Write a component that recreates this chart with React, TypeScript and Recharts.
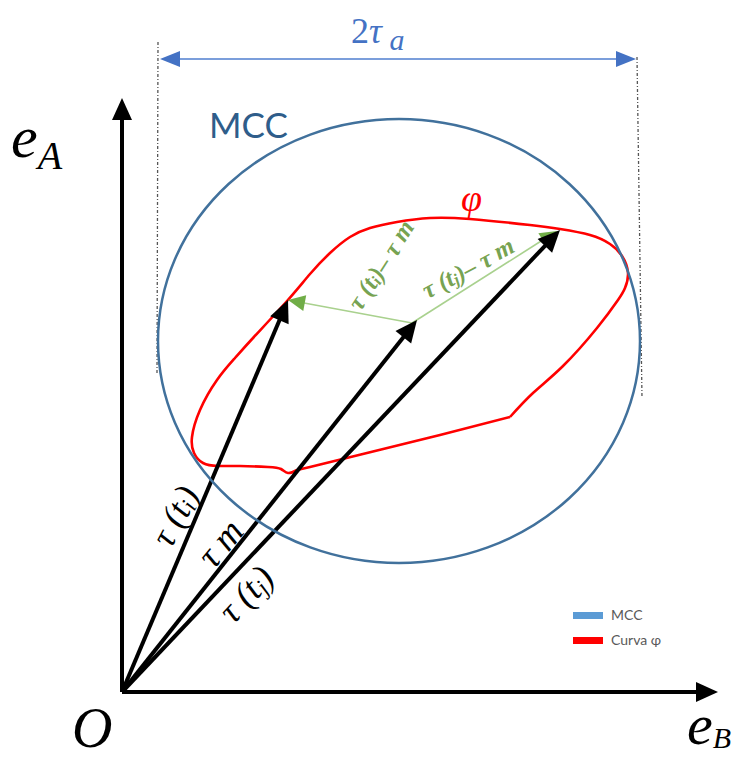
import React from 'react';
import { ComposedChart, XAxis, YAxis, Line, ReferenceLine, ReferenceDot } from 'recharts';

const W = 742;
const H = 760;

// ---- data (in diagram units; x to the right, y downwards) ----
const origin = { x: 122, y: 692 };
const axisTips = [
  { name: 'eB', x: 718, y: 692 },
  { name: 'eA', x: 122, y: 98 },
];
const vectorTips = [
  { name: 'ti', x: 288, y: 300 },
  { name: 'm', x: 417, y: 320 },
  { name: 'tj', x: 560, y: 230 },
];
const diffStart = { x: 412, y: 323 };
const diffTips = [
  { name: 'ti-m', x: 288, y: 300 },
  { name: 'tj-m', x: 557, y: 231 },
];
const mccCenter = { x: 399, y: 341 };
const mccRadii = { rx: 241, ry: 222 };
const phiSmooth = [
  { x: 297, y: 470 }, { x: 288, y: 473 }, { x: 281, y: 469 }, { x: 268, y: 467 },
  { x: 240, y: 466 }, { x: 218, y: 466 }, { x: 203, y: 463 }, { x: 194, y: 453 },
  { x: 192, y: 437 }, { x: 200, y: 410 }, { x: 217, y: 380 }, { x: 235, y: 358 },
  { x: 253, y: 338 }, { x: 287, y: 301 }, { x: 310, y: 274 }, { x: 330, y: 253 },
  { x: 350, y: 237 }, { x: 370, y: 228 }, { x: 397, y: 222 }, { x: 430, y: 218 },
  { x: 470, y: 219 }, { x: 530, y: 225 }, { x: 560, y: 229 }, { x: 590, y: 235 },
  { x: 610, y: 244 }, { x: 622, y: 256 }, { x: 628, y: 273 }, { x: 625, y: 288 },
  { x: 618, y: 300 }, { x: 597, y: 328 }, { x: 563, y: 366 }, { x: 533, y: 393 },
  { x: 510, y: 417 },
];
const phiStraight = [
  { x: 510, y: 417 }, { x: 440, y: 435 }, { x: 371, y: 452 }, { x: 310, y: 467 }, { x: 297, y: 470 },
];
const guideLines = [
  [{ x: 158, y: 42 }, { x: 157, y: 374 }],
  [{ x: 637, y: 57 }, { x: 642, y: 398 }],
];
const spanArrow = [{ x: 160, y: 59 }, { x: 636, y: 59 }];
const legendItems = [
  { label: 'MCC', color: '#5B9BD5' },
  { label: 'Curva φ', color: '#FF0000' },
];

// ---- annotation anchors ----
const legendAnchor = { x: 573, y: 615, step: 25 };

const SERIF = '"Liberation Serif", "DejaVu Serif", serif';
const SANS = 'Lato, "Open Sans", "Noto Sans", sans-serif';

function head(x1: number, y1: number, x2: number, y2: number, len: number, half: number) {
  const dx = x2 - x1;
  const dy = y2 - y1;
  const L = Math.hypot(dx, dy) || 1;
  const ux = dx / L;
  const uy = dy / L;
  const bx = x2 - ux * len;
  const by = y2 - uy * len;
  const px = -uy * half;
  const py = ux * half;
  return { bx, by, ux, uy, pts: `${x2},${y2} ${bx + px},${by + py} ${bx - px},${by - py}` };
}

const makeArrow = (opts: { line: string; head: string; width: number; len: number; half: number; both?: boolean; dash?: string }) =>
  (p: any) => {
    const { x1, y1, x2, y2 } = p;
    const h2 = head(x1, y1, x2, y2, opts.len, opts.half);
    let sx = x1;
    let sy = y1;
    let h1: any = null;
    if (opts.both) {
      h1 = head(x2, y2, x1, y1, opts.len, opts.half);
      sx = h1.bx + h1.ux * 1;
      sy = h1.by + h1.uy * 1;
    }
    const ex = h2.bx + h2.ux * 2;
    const ey = h2.by + h2.uy * 2;
    return (
      <g>
        <line x1={sx} y1={sy} x2={ex} y2={ey} stroke={opts.line} strokeWidth={opts.width} strokeDasharray={opts.dash} />
        <polygon points={h2.pts} fill={opts.head} />
        {h1 ? <polygon points={h1.pts} fill={opts.head} /> : null}
      </g>
    );
  };

const blackArrow = makeArrow({ line: '#000', head: '#000', width: 4, len: 22, half: 10 });
const greenArrow = makeArrow({ line: '#A9D18E', head: '#70AD47', width: 1.6, len: 17, half: 8 });
const blueArrow = makeArrow({ line: '#7B9EDB', head: '#4472C4', width: 2, len: 20, half: 8, both: true });

const guideShape = (p: any) => (
  <line x1={p.x1} y1={p.y1} x2={p.x2} y2={p.y2} stroke="#555" strokeWidth={1.3} strokeDasharray="3 2 1 2" />
);

const ellipseShape = (p: any) => (
  <ellipse cx={p.cx} cy={p.cy} rx={mccRadii.rx} ry={mccRadii.ry} fill="none" stroke="#41719C" strokeWidth={2.5} />
);

type TextSpec = { x: number; y: number; render: (cx: number, cy: number) => React.ReactNode };

const tauLabel = (cx: number, cy: number, angle: number, sub: string, size: number) => (
  <text
    x={cx}
    y={cy}
    transform={`rotate(${angle} ${cx} ${cy})`}
    textAnchor="middle"
    dominantBaseline="central"
    fontFamily={SERIF}
    fontStyle="italic"
    fontSize={size}
    fill="#000"
  >
    τ (t<tspan fontSize={size * 0.65} dy={size * 0.2}>{sub}</tspan>
    <tspan dy={-size * 0.2}>)</tspan>
  </text>
);

const diffLabel = (cx: number, cy: number, angle: number, sub: string) => {
  const size = 25;
  return (
    <text
      x={cx}
      y={cy}
      transform={`rotate(${angle} ${cx} ${cy})`}
      textAnchor="middle"
      dominantBaseline="central"
      fontFamily={SERIF}
      fontStyle="italic"
      fontWeight={700}
      fontSize={size}
      fill="#77A352"
    >
      τ (t<tspan fontSize={size * 0.65} dy={size * 0.2}>{sub}</tspan>
      <tspan dy={-size * 0.2}>)– τ </tspan>
      <tspan dy={-size * 0.05}>m</tspan>
    </text>
  );
};

const texts: TextSpec[] = [
  {
    x: 11, y: 157,
    render: (cx, cy) => (
      <text x={cx} y={cy} fontFamily={SERIF} fontStyle="italic" fontSize={60} fill="#000">
        e<tspan fontSize={40} dy={12}>A</tspan>
      </text>
    ),
  },
  {
    x: 72, y: 747,
    render: (cx, cy) => (
      <text x={cx} y={cy} fontFamily={SERIF} fontStyle="italic" fontSize={56} fill="#000">O</text>
    ),
  },
  {
    x: 687, y: 744,
    render: (cx, cy) => (
      <text x={cx} y={cy} fontFamily={SERIF} fontStyle="italic" fontSize={58} fill="#000">
        e<tspan fontSize={30} dy={4}>B</tspan>
      </text>
    ),
  },
  {
    x: 351, y: 43,
    render: (cx, cy) => (
      <text x={cx} y={cy} fontFamily={SERIF} fontSize={36} fill="#4472C4">
        2<tspan fontStyle="italic">τ</tspan>
        <tspan fontStyle="italic" fontSize={30} dy={7}> a</tspan>
      </text>
    ),
  },
  {
    x: 209, y: 138,
    render: (cx, cy) => (
      <text x={cx} y={cy} fontFamily={SANS} fontSize={35} fill="#2F5D8A">MCC</text>
    ),
  },
  {
    x: 461, y: 211,
    render: (cx, cy) => (
      <text x={cx} y={cy} fontFamily={SERIF} fontStyle="italic" fontSize={38} fill="#FF0000">φ</text>
    ),
  },
  { x: 175, y: 516, render: (cx, cy) => tauLabel(cx, cy, -62, 'i', 36) },
  {
    x: 220, y: 543,
    render: (cx, cy) => (
      <text
        x={cx} y={cy}
        transform={`rotate(-50 ${cx} ${cy})`}
        textAnchor="middle" dominantBaseline="central"
        fontFamily={SERIF} fontStyle="italic" fontSize={37} fill="#000"
      >
        τ m
      </text>
    ),
  },
  { x: 246, y: 594, render: (cx, cy) => tauLabel(cx, cy, -47, 'j', 36) },
  { x: 381, y: 265, render: (cx, cy) => diffLabel(cx, cy, -57, 'i') },
  { x: 468, y: 268, render: (cx, cy) => diffLabel(cx, cy, -28, 'j') },
];

export default function App() {
  return (
    <div style={{ position: 'absolute', left: 0, top: 0, width: W, height: H, background: '#fff' }}>
      <ComposedChart width={W} height={H} margin={{ top: 0, right: 0, bottom: 0, left: 0 }}>
        <XAxis type="number" dataKey="x" domain={[0, W]} hide allowDataOverflow />
        <YAxis type="number" dataKey="y" domain={[0, H]} reversed hide allowDataOverflow />

        {guideLines.map((seg, i) => (
          <ReferenceLine key={`g${i}`} segment={seg} shape={guideShape} ifOverflow="visible" />
        ))}
        <ReferenceLine segment={spanArrow} shape={blueArrow} ifOverflow="visible" />

        <ReferenceDot x={mccCenter.x} y={mccCenter.y} r={1} shape={ellipseShape} ifOverflow="visible" />

        <Line data={phiSmooth} dataKey="y" type="natural" stroke="#FF0000" strokeWidth={2.6} dot={false} activeDot={false} isAnimationActive={false} />
        <Line data={phiStraight} dataKey="y" type="linear" stroke="#FF0000" strokeWidth={2.6} dot={false} activeDot={false} isAnimationActive={false} />

        {axisTips.map((t) => (
          <ReferenceLine key={t.name} segment={[origin, { x: t.x, y: t.y }]} shape={blackArrow} ifOverflow="visible" />
        ))}
        {diffTips.map((t) => (
          <ReferenceLine key={t.name} segment={[diffStart, { x: t.x, y: t.y }]} shape={greenArrow} ifOverflow="visible" />
        ))}
        {vectorTips.map((t) => (
          <ReferenceLine key={t.name} segment={[origin, { x: t.x, y: t.y }]} shape={blackArrow} ifOverflow="visible" />
        ))}

        {texts.map((t, i) => (
          <ReferenceDot key={`t${i}`} x={t.x} y={t.y} r={1} ifOverflow="visible" shape={(p: any) => <g>{t.render(p.cx, p.cy)}</g>} />
        ))}

        {legendItems.map((item, i) => (
          <ReferenceDot
            key={item.label}
            x={legendAnchor.x}
            y={legendAnchor.y + i * legendAnchor.step}
            r={1}
            ifOverflow="visible"
            shape={(p: any) => (
              <g>
                <rect x={p.cx} y={p.cy - 3} width={30} height={7} fill={item.color} />
                <text x={p.cx + 38} y={p.cy + 5} fontFamily={SANS} fontSize={14} fill="#595959">{item.label}</text>
              </g>
            )}
          />
        ))}
      </ComposedChart>
    </div>
  );
}
